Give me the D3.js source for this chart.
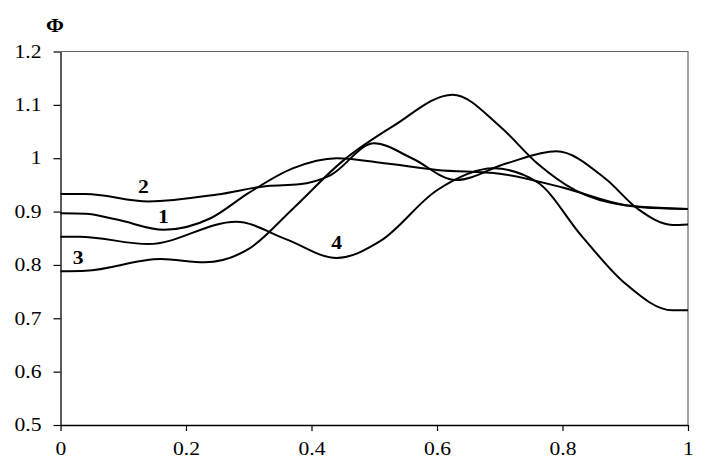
<!DOCTYPE html>
<html>
<head>
<meta charset="utf-8">
<script src="https://cdn.jsdelivr.net/npm/d3@7"></script>
<style>
  body { margin: 0; background: #fff; }
  svg { display: block; }
</style>
</head>
<body>
<script>
// x positions + Φ values, one array pair per curve
const x1 = [0, 0.04, 0.09, 0.165, 0.24, 0.3, 0.37, 0.44, 0.52, 0.6, 0.7, 0.8, 0.9, 0.96, 1];
const phi1 = [0.897, 0.896, 0.885, 0.866, 0.888, 0.935, 0.981, 1.0, 0.99, 0.978, 0.971, 0.945, 0.912, 0.906, 0.905];

const x2 = [0, 0.04, 0.14, 0.25, 0.33, 0.38, 0.43, 0.5, 0.56, 0.63, 0.71, 0.79, 0.87, 0.92, 0.975, 1];
const phi2 = [0.933, 0.933, 0.919, 0.932, 0.948, 0.951, 0.968, 1.028, 1.0, 0.959, 0.99, 1.013, 0.96, 0.905, 0.875, 0.876];

const x3 = [0, 0.04, 0.16, 0.23, 0.3, 0.37, 0.45, 0.53, 0.625, 0.7, 0.76, 0.82, 0.9, 1];
const phi3 = [0.788, 0.789, 0.811, 0.805, 0.83, 0.905, 0.995, 1.06, 1.119, 1.06, 0.99, 0.94, 0.912, 0.905];

const x4 = [0, 0.03, 0.14, 0.28, 0.36, 0.44, 0.51, 0.6, 0.69, 0.76, 0.83, 0.9, 0.975, 1];
const phi4 = [0.853, 0.853, 0.839, 0.881, 0.848, 0.813, 0.845, 0.94, 0.981, 0.955, 0.855, 0.765, 0.715, 0.715];

const curveNames = ["1", "2", "3", "4"];
const xTicks = [0, 0.2, 0.4, 0.6, 0.8, 1];
const yTicks = [0.5, 0.6, 0.7, 0.8, 0.9, 1.0, 1.1, 1.2];

// curve number labels, in data units
const labelX = [0.164, 0.132, 0.028, 0.44];
const labelY = [0.891, 0.947, 0.813, 0.841];

const serif = '"Liberation Serif", "Times New Roman", serif';
const stretch = 1.2; // the source lettering is a bit wider than Times
const width = 719, height = 469;
const margin = {top: 51.5, right: 31, bottom: 44, left: 60.5};

const svg = d3.select("body").append("svg")
  .attr("width", width)
  .attr("height", height)
  .attr("font-family", serif);

const x = d3.scaleLinear().domain([0, 1]).range([margin.left, width - margin.right]);
const y = d3.scaleLinear().domain([0.5, 1.2]).range([height - margin.bottom, margin.top]);

// frame on top and right
svg.append("path")
  .attr("d", `M${x(0)},${y(1.2)}H${x(1)}V${y(0.5)}`)
  .attr("fill", "none")
  .attr("stroke", "#666")
  .attr("stroke-width", 1.2);

const yAxis = svg.append("g")
  .attr("transform", `translate(${x(0)},0)`)
  .call(d3.axisLeft(y).tickValues(yTicks).tickFormat(d3.format("~g")).tickSize(7).tickPadding(12).tickSizeOuter(0));

const xAxis = svg.append("g")
  .attr("transform", `translate(0,${y(0.5)})`)
  .call(d3.axisBottom(x).tickValues(xTicks).tickFormat(d3.format("~g")).tickSize(6).tickPadding(11).tickSizeOuter(0));

[yAxis, xAxis].forEach(g => {
  g.attr("font-family", serif).attr("font-size", 18);
  g.select(".domain").attr("stroke", "#000").attr("stroke-width", 1.3);
  g.selectAll(".tick line").attr("stroke", "#000").attr("stroke-width", 1.2);
  g.selectAll(".tick text")
    .attr("fill", "#000")
    .attr("x", function() { return +d3.select(this).attr("x") / stretch; })
    .attr("transform", `scale(${stretch},1)`);
});

svg.append("text")
  .attr("transform", `translate(55,31.5) scale(${stretch},1)`)
  .attr("text-anchor", "middle")
  .attr("font-size", 18)
  .attr("font-weight", "bold")
  .text("Φ");

const series = [[x1, phi1], [x2, phi2], [x3, phi3], [x4, phi4]];

const line = d3.line()
  .x(d => x(d[0]))
  .y(d => y(d[1]))
  .curve(d3.curveMonotoneX);

svg.append("g").selectAll("path")
  .data(series)
  .enter().append("path")
  .attr("d", s => line(d3.zip(s[0], s[1])))
  .attr("fill", "none")
  .attr("stroke", "#000")
  .attr("stroke-width", 2);

svg.append("g").selectAll("text")
  .data(curveNames)
  .enter().append("text")
  .attr("transform", (d, i) => `translate(${x(labelX[i])},${y(labelY[i])}) scale(${stretch},1)`)
  .attr("text-anchor", "middle")
  .attr("dominant-baseline", "central")
  .attr("font-size", 18)
  .attr("font-weight", "bold")
  .text(d => d);
</script>
</body>
</html>
